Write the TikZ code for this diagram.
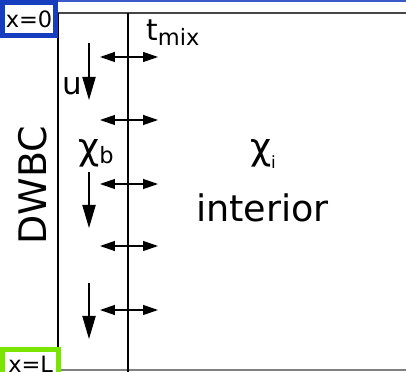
\documentclass[tikz,border=0pt]{standalone}
\usepackage{fontspec}
\setmainfont{DejaVu Sans}
\usetikzlibrary{arrows.meta}
\definecolor{boxblue}{RGB}{22,62,190}
\definecolor{boxgreen}{RGB}{122,230,0}
\definecolor{wallgray}{RGB}{70,70,70}

\begin{document}
\begin{tikzpicture}[x=0.025cm, y=-0.025cm,
  wall/.style={line width=1.1pt, black},
  mixarrow/.style={line width=0.9pt, {Triangle[length=10.5pt,width=7pt]}-{Triangle[length=10.5pt,width=7pt]}},
  flowarrow/.style={line width=0.9pt, -{Triangle[length=16.5pt,width=9.5pt]}},
  lbl/.style={inner sep=0pt}]
\clip (0,0) rectangle (406,372);
\fill[white] (0,0) rectangle (406,372);
% basin outline
\draw[boxblue!85, line width=0.8pt] (58,1) -- (406,1);
\draw[wallgray, line width=1.1pt] (58,13) -- (406,13);
\draw[gray, line width=1.1pt] (61,370) -- (406,370);
\draw[wall] (58,13) -- (58,349);
\draw[wall] (128,13) -- (128,372);
% boundary markers
\node[draw=boxblue, fill=white, line width=3.6pt, minimum width=1.325cm, minimum height=0.825cm,
  inner sep=0pt, font=\fontsize{16}{18}\selectfont] (xzero) at (29,19) {x=0};
\node[draw=boxgreen, fill=white, line width=3.6pt, minimum width=1.4cm, minimum height=1.075cm,
  inner sep=0pt] (xlbox) at (30.5,371) {};
\node[lbl, anchor=base west, font=\fontsize{16}{18}\selectfont] (xl) at (8,372) {x=L};
% exchange with the interior
\foreach \y [count=\i] in {57,120,184,246,310} {
  \coordinate (mixL\i) at (100,\y);
  \coordinate (mixR\i) at (158,\y);
  \draw[mixarrow] (mixL\i) -- (mixR\i);
}
% boundary current
\coordinate (uA) at (89,43);
\coordinate (uB) at (89,100);
\coordinate (bA) at (89,172);
\coordinate (bB) at (89,228);
\coordinate (cA) at (89,283);
\coordinate (cB) at (89,339);
\draw[flowarrow] (uA) -- (uB);
\draw[flowarrow] (bA) -- (bB);
\draw[flowarrow] (cA) -- (cB);
% labels
\node[lbl, font=\fontsize{22}{24}\selectfont] (u) at (72,86) {u};
\node[lbl, anchor=base west] (tmix) at (146,41)
  {\fontsize{21}{22}\selectfont t\raisebox{-3.5pt}{\fontsize{16}{17}\selectfont mix}};
\node[lbl, font=\fontsize{26}{28}\selectfont] (chib) at (96,153) {χ\raisebox{-3pt}{\fontsize{16}{17}\selectfont b}};
\node[lbl, font=\fontsize{26}{28}\selectfont] (chii) at (263,154) {χ\raisebox{-6pt}{\fontsize{12}{13}\selectfont i}};
\node[lbl, font=\fontsize{26}{30}\selectfont] (interior) at (262.5,208) {interior};
\node[lbl, rotate=90, font=\fontsize{27}{30}\selectfont] (dwbc) at (33,185) {DWBC};
\end{tikzpicture}
\end{document}
